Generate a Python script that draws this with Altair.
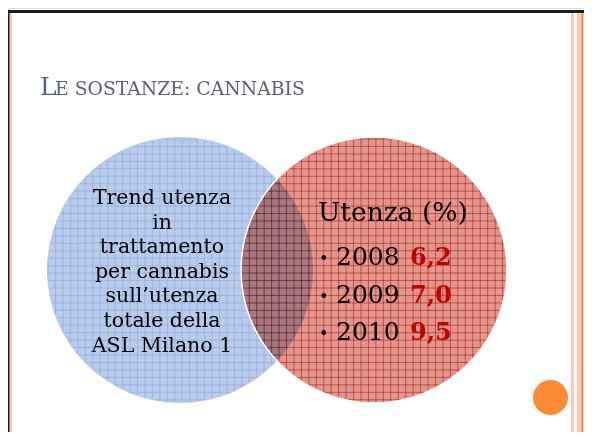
import altair as alt
import pandas as pd
import numpy as np

# ---------------- content ----------------
title_first = "L"
title_rest = "E SOSTANZE: CANNABIS"
left_lines = ["Trend utenza", "in", "trattamento", "per cannabis",
              "sull\u2019utenza", "totale della", "ASL Milano 1"]
right_heading = "Utenza (%)"
years = ["2008", "2009", "2010"]
values = ["6,2", "7,0", "9,5"]
circle_names = ["left", "right"]

# ---------------- layout ----------------
W, H = 576, 424
xs = alt.Scale(domain=[8, 8 + W], range=[0, W])
ys = alt.Scale(domain=[8, 8 + H], range=[0, H])
SERIF = "DejaVu Serif"


def xq(f):
    return alt.X(f, type="quantitative", scale=xs, axis=None)


def yq(f):
    return alt.Y(f, type="quantitative", scale=ys, axis=None)


BOT = 8 + H
# frame stripes
frame = pd.DataFrame([
    dict(x1=9.5, x2=12, y1=12, y2=BOT, c="#FCC8B7"),
    dict(x1=571, x2=574, y1=10, y2=BOT, c="#FCC8B7"),
    dict(x1=577, x2=584, y1=10, y2=BOT, c="#FCCBBA"),
    dict(x1=581.6, x2=582.9, y1=10, y2=BOT, c="#F07A38"),
    dict(x1=8, x2=9.5, y1=10, y2=BOT, c="#1A1A1A"),
    dict(x1=8, x2=584, y1=10, y2=13, c="#1A1A1A"),
])
frame_layer = alt.Chart(frame).mark_rect().encode(
    x=xq("x1"), x2="x2", y=yq("y1"), y2="y2",
    color=alt.Color("c:N", scale=None))

# circles
R = 133
circ = pd.DataFrame({"name": circle_names, "cx": [180, 374], "cy": [270, 270]})
blue = circ[circ.name == "left"]
red = circ[circ.name == "right"]
SIZE = (2 * R) ** 2

blue_layer = alt.Chart(blue).mark_point(
    shape="circle", filled=True, color="#B9CCEC", opacity=1, size=SIZE,
    strokeWidth=0).encode(x=xq("cx"), y=yq("cy"))
red_layer = alt.Chart(red).mark_point(
    shape="circle", filled=True, color="#E3968D", opacity=1, size=SIZE,
    strokeWidth=0, blend="multiply").encode(x=xq("cx"), y=yq("cy"))
red_outline = alt.Chart(red).mark_point(
    shape="circle", filled=False, color="white", opacity=1, size=SIZE,
    strokeWidth=1.5).encode(x=xq("cx"), y=yq("cy"))


def grid(cx, cy, r, step=7.45, x0=256.7, y0=243.3):
    rows = []
    r = r - 0.8
    kx = np.arange(np.ceil((cx - r - x0) / step), np.floor((cx + r - x0) / step) + 1)
    for k in kx:
        x = x0 + k * step
        h = np.sqrt(max(r * r - (x - cx) ** 2, 0))
        rows.append(dict(x1=x, x2=x, y1=cy - h, y2=cy + h))
    ky = np.arange(np.ceil((cy - r - y0) / step), np.floor((cy + r - y0) / step) + 1)
    for k in ky:
        y = y0 + k * step
        h = np.sqrt(max(r * r - (y - cy) ** 2, 0))
        rows.append(dict(x1=cx - h, x2=cx + h, y1=y, y2=y))
    return pd.DataFrame(rows)


bg = grid(180, 270, R)
rg = grid(374, 270, R)
blue_grid = alt.Chart(bg).mark_rule(color="#8AA6DC", strokeWidth=0.9, opacity=0.65).encode(
    x=xq("x1"), x2="x2", y=yq("y1"), y2="y2")
red_grid = alt.Chart(rg).mark_rule(color="#C0392B", strokeWidth=0.8, opacity=0.75,
                                   blend="multiply").encode(
    x=xq("x1"), x2="x2", y=yq("y1"), y2="y2")

# orange dot
dot = pd.DataFrame({"cx": [550.5], "cy": [397.5]})
dot_layer = alt.Chart(dot).mark_point(
    shape="circle", filled=True, color="#FD8A35", opacity=1, size=35 ** 2,
    strokeWidth=0).encode(x=xq("cx"), y=yq("cy"))

# title
t1 = pd.DataFrame({"t": [title_first], "x": [40], "y": [94.5]})
t2 = pd.DataFrame({"t": [title_rest], "x": [55], "y": [94.5]})
title1 = alt.Chart(t1).mark_text(font=SERIF, fontSize=25, color="#5B6275",
                                 align="left", baseline="alphabetic").encode(
    x=xq("x"), y=yq("y"), text="t:N")
title2 = alt.Chart(t2).mark_text(font=SERIF, fontSize=18.8, color="#5B6275",
                                 align="left", baseline="alphabetic").encode(
    x=xq("x"), y=yq("y"), text="t:N")

# left text
lt = pd.DataFrame({"t": left_lines, "x": [162] * len(left_lines),
                   "y": [204 + 24.6 * i for i in range(len(left_lines))]})
left_text = alt.Chart(lt).mark_text(font=SERIF, fontSize=20.5, color="black",
                                    align="center", baseline="alphabetic").encode(
    x=xq("x"), y=yq("y"), text="t:N")

# right text
rh = pd.DataFrame({"t": [right_heading], "x": [318], "y": [221]})
right_head = alt.Chart(rh).mark_text(font=SERIF, fontSize=26.5, color="black",
                                     align="left", baseline="alphabetic").encode(
    x=xq("x"), y=yq("y"), text="t:N")
yr_y = [265 + 37.5 * i for i in range(len(years))]
bul = pd.DataFrame({"t": ["\u2022"] * len(years), "x": [319] * len(years),
                    "y": [v - 1 for v in yr_y]})
bullets = alt.Chart(bul).mark_text(font=SERIF, fontSize=16, color="black",
                                   align="left", baseline="alphabetic").encode(
    x=xq("x"), y=yq("y"), text="t:N")
yr = pd.DataFrame({"t": years, "x": [336] * len(years), "y": yr_y})
year_text = alt.Chart(yr).mark_text(font=SERIF, fontSize=25, color="black",
                                    align="left", baseline="alphabetic").encode(
    x=xq("x"), y=yq("y"), text="t:N")
vl = pd.DataFrame({"t": values, "x": [410] * len(values), "y": yr_y})
val_text = alt.Chart(vl).mark_text(font=SERIF, fontSize=24, fontWeight="bold",
                                   color="#C00000", align="left",
                                   baseline="alphabetic").encode(
    x=xq("x"), y=yq("y"), text="t:N")

chart = alt.layer(
    frame_layer, blue_layer, blue_grid, red_layer, red_grid, red_outline,
    dot_layer, title1, title2, left_text, right_head, bullets, year_text, val_text
).properties(
    width=W, height=H, padding=0,
    autosize=alt.AutoSizeParams(type="none")
).configure_view(stroke=None).configure(background="white")

chart.save("out.html", embed_options={"renderer": "svg", "actions": False})
